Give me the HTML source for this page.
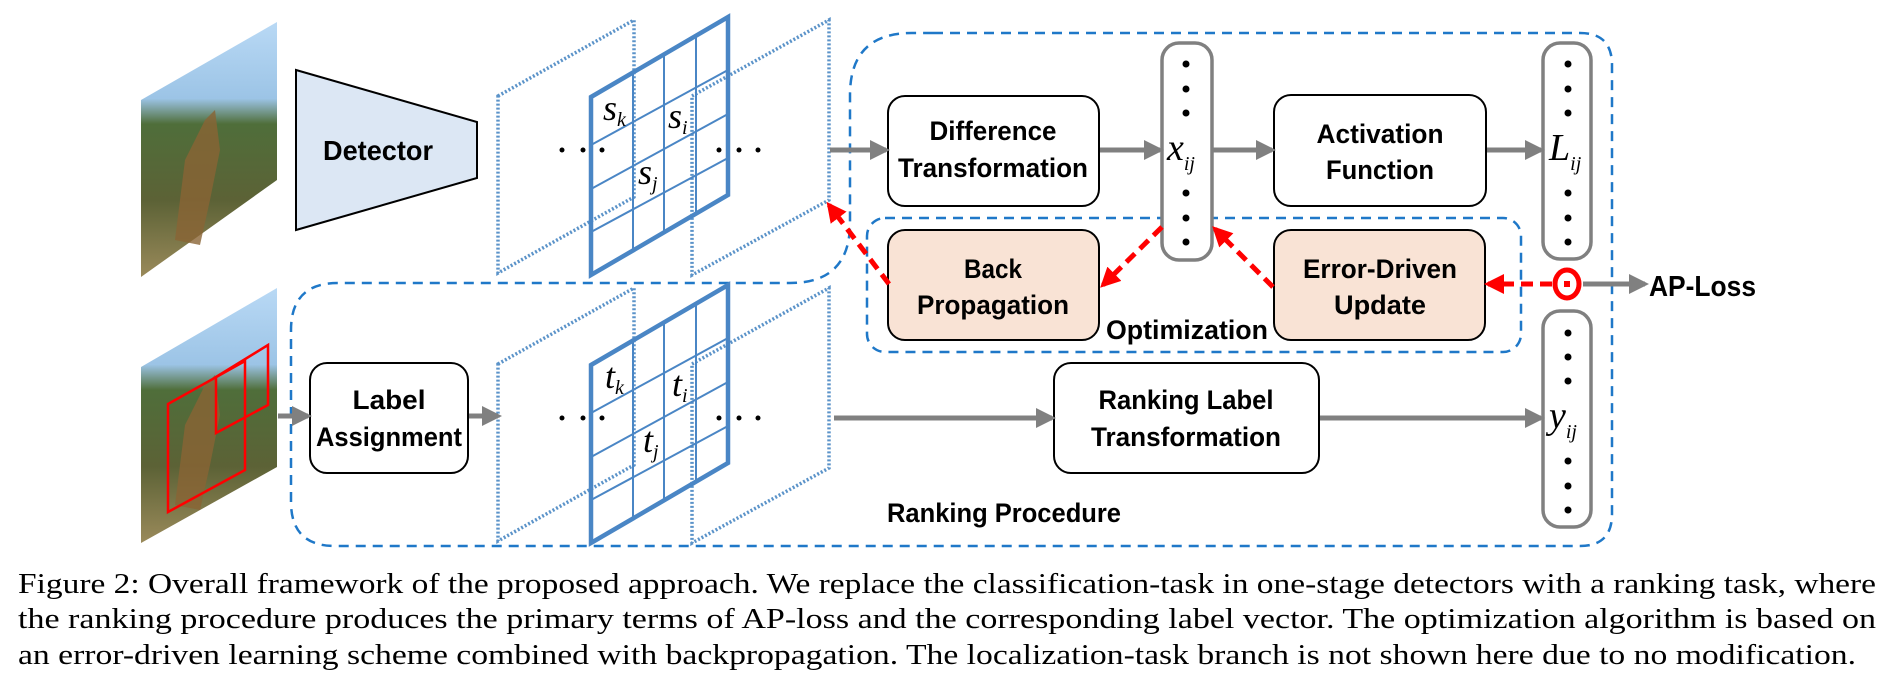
<!DOCTYPE html>
<html><head><meta charset="utf-8"><style>
html,body{margin:0;padding:0;background:#fff;width:1900px;height:680px;overflow:hidden}
svg{display:block}
.b{font-family:"Liberation Sans",sans-serif;font-weight:bold;fill:#000}
.m{font-family:"Liberation Serif",serif;font-style:italic;fill:#000}
.c{font-family:"Liberation Serif",serif;fill:#000}
</style></head><body>
<svg width="1900" height="680" viewBox="0 0 1900 680" xmlns="http://www.w3.org/2000/svg">
<defs>
<linearGradient id="ph" x1="0" y1="0" x2="0" y2="1">
<stop offset="0" stop-color="#b9d9f5"/><stop offset="0.3" stop-color="#9cc4e6"/><stop offset="0.4" stop-color="#4f6e3a"/><stop offset="0.7" stop-color="#5c6236"/><stop offset="1" stop-color="#9a8a5a"/>
</linearGradient>
<marker id="ag" markerWidth="4" markerHeight="4" refX="3.2" refY="2" orient="auto" markerUnits="strokeWidth"><path d="M0,0 L4,2 L0,4 Z" fill="#808080"/></marker>
<marker id="ar" markerWidth="4" markerHeight="4" refX="3.2" refY="2" orient="auto" markerUnits="strokeWidth"><path d="M0,0 L4,2 L0,4 Z" fill="#f00"/></marker>
</defs>

<!-- photos -->
<polygon points="141,100 277,22 277,180 141,277" fill="url(#ph)"/>
<path d="M175,240 L185,160 L205,120 L215,110 L220,150 L210,200 L200,245 Z" fill="#8a6434" opacity="0.8"/>
<polygon points="141,367 277,288 277,467 141,543" fill="url(#ph)"/>
<path d="M175,505 L185,425 L205,385 L215,375 L220,415 L210,465 L200,510 Z" fill="#8a6434" opacity="0.8"/>
<polygon points="168,404 245,361 245,470 168,512" fill="none" stroke="#f00" stroke-width="2.5"/>
<polygon points="216,377 268,345 268,405 216,433" fill="none" stroke="#f00" stroke-width="2.5"/>

<!-- detector -->
<polygon points="296,70 477,122 477,178 296,230" fill="#dce7f4" stroke="#000" stroke-width="2"/>
<text class="b" x="378" y="160" font-size="28" text-anchor="middle" textLength="110" lengthAdjust="spacingAndGlyphs">Detector</text>

<!-- outer dashed region -->
<path d="M933,33 H1580 Q1612,33 1612,65 V514 Q1612,546 1580,546 H335 Q291,546 291,502 V330 Q291,283 338,283 H790 Q850,283 850,223 V95 Q850,33 912,33 Z" fill="none" stroke="#1f78c8" stroke-width="2.5" stroke-dasharray="10,7"/>
<rect x="867" y="218" width="654" height="134" rx="18" fill="none" stroke="#1f78c8" stroke-width="2.5" stroke-dasharray="10,7"/>

<!-- feature maps -->
<g id="fm">
<polygon points="498,96 634,20 634,197 498,273" fill="none" stroke="#5b93c9" stroke-width="3.5" stroke-dasharray="2,2"/>
<polygon points="692,96 829,20 829,200 692,275" fill="none" stroke="#5b93c9" stroke-width="3.5" stroke-dasharray="2,2"/>
<polygon points="591,97 728,17 728,195 591,275" fill="none" stroke="#4a86c5" stroke-width="4.5"/>
<g stroke="#4a86c5" stroke-width="2">
<line x1="633" y1="72" x2="633" y2="250"/><line x1="664" y1="55" x2="664" y2="232"/><line x1="696" y1="36" x2="696" y2="214"/>
<line x1="591" y1="145" x2="728" y2="70"/><line x1="591" y1="189" x2="728" y2="114"/><line x1="591" y1="232" x2="728" y2="158"/>
</g>
</g>
<use href="#fm" transform="translate(0,268)"/>

<g fill="#000">
<circle cx="562" cy="150" r="2.5"/><circle cx="583" cy="150" r="2.5"/><circle cx="602" cy="150" r="2.5"/>
<circle cx="719" cy="150" r="2.5"/><circle cx="739" cy="150" r="2.5"/><circle cx="758" cy="150" r="2.5"/>
<circle cx="562" cy="418" r="2.5"/><circle cx="583" cy="418" r="2.5"/><circle cx="602" cy="418" r="2.5"/>
<circle cx="719" cy="418" r="2.5"/><circle cx="739" cy="418" r="2.5"/><circle cx="758" cy="418" r="2.5"/>
</g>
<text class="m" x="603" y="120" font-size="36">s<tspan font-size="20" dy="6">k</tspan></text>
<text class="m" x="668" y="128" font-size="36">s<tspan font-size="20" dy="6">i</tspan></text>
<text class="m" x="638" y="184" font-size="36">s<tspan font-size="20" dy="6">j</tspan></text>
<text class="m" x="605" y="388" font-size="36">t<tspan font-size="20" dy="6">k</tspan></text>
<text class="m" x="672" y="396" font-size="36">t<tspan font-size="20" dy="6">i</tspan></text>
<text class="m" x="643" y="452" font-size="36">t<tspan font-size="20" dy="6">j</tspan></text>

<!-- boxes -->
<g stroke="#000" stroke-width="2">
<rect x="888" y="96" width="211" height="110" rx="17" fill="#fff"/>
<rect x="1274" y="95" width="212" height="111" rx="17" fill="#fff"/>
<rect x="888" y="230" width="211" height="110" rx="17" fill="#f9e3d5"/>
<rect x="1274" y="230" width="211" height="110" rx="17" fill="#f9e3d5"/>
<rect x="1054" y="363" width="265" height="110" rx="17" fill="#fff"/>
<rect x="310" y="363" width="158" height="110" rx="17" fill="#fff"/>
</g>
<g class="b" font-size="27" text-anchor="middle">
<text x="993" y="140" textLength="127" lengthAdjust="spacingAndGlyphs">Difference</text>
<text x="993" y="177" textLength="190" lengthAdjust="spacingAndGlyphs">Transformation</text>
<text x="1380" y="143" textLength="127" lengthAdjust="spacingAndGlyphs">Activation</text>
<text x="1380" y="179" textLength="108" lengthAdjust="spacingAndGlyphs">Function</text>
<text x="993" y="278" textLength="58" lengthAdjust="spacingAndGlyphs">Back</text>
<text x="993" y="314" textLength="152" lengthAdjust="spacingAndGlyphs">Propagation</text>
<text x="1380" y="278" textLength="154" lengthAdjust="spacingAndGlyphs">Error-Driven</text>
<text x="1380" y="314" textLength="92" lengthAdjust="spacingAndGlyphs">Update</text>
<text x="1186" y="409" textLength="175" lengthAdjust="spacingAndGlyphs">Ranking Label</text>
<text x="1186" y="446" textLength="190" lengthAdjust="spacingAndGlyphs">Transformation</text>
<text x="389" y="409" textLength="73" lengthAdjust="spacingAndGlyphs">Label</text>
<text x="389" y="446" textLength="146" lengthAdjust="spacingAndGlyphs">Assignment</text>
</g>
<text class="b" x="1106" y="339" font-size="27" textLength="162" lengthAdjust="spacingAndGlyphs">Optimization</text>
<text class="b" x="887" y="522" font-size="27" textLength="234" lengthAdjust="spacingAndGlyphs">Ranking Procedure</text>
<text class="b" x="1649" y="296" font-size="29" textLength="107" lengthAdjust="spacingAndGlyphs">AP-Loss</text>

<!-- vectors -->
<g fill="#fff" stroke="#808080" stroke-width="3.5">
<rect x="1162" y="43" width="50" height="217" rx="17"/>
<rect x="1543" y="43" width="48" height="216" rx="17"/>
<rect x="1543" y="311" width="48" height="216" rx="17"/>
</g>
<g fill="#000">
<circle cx="1186" cy="64" r="3.5"/><circle cx="1186" cy="89" r="3.5"/><circle cx="1186" cy="113" r="3.5"/>
<circle cx="1186" cy="193" r="3.5"/><circle cx="1186" cy="218" r="3.5"/><circle cx="1186" cy="242" r="3.5"/>
<circle cx="1568" cy="64" r="3.5"/><circle cx="1568" cy="89" r="3.5"/><circle cx="1568" cy="113" r="3.5"/>
<circle cx="1568" cy="193" r="3.5"/><circle cx="1568" cy="218" r="3.5"/><circle cx="1568" cy="242" r="3.5"/>
<circle cx="1568" cy="333" r="3.5"/><circle cx="1568" cy="357" r="3.5"/><circle cx="1568" cy="381" r="3.5"/>
<circle cx="1568" cy="461" r="3.5"/><circle cx="1568" cy="486" r="3.5"/><circle cx="1568" cy="510" r="3.5"/>
</g>
<text class="m" x="1167" y="160" font-size="38">x<tspan font-size="20" dy="10">ij</tspan></text>
<text class="m" x="1549" y="160" font-size="38">L<tspan font-size="20" dy="10">ij</tspan></text>
<text class="m" x="1549" y="428" font-size="38">y<tspan font-size="20" dy="10">ij</tspan></text>

<!-- gray arrows -->
<g stroke="#808080" stroke-width="5" fill="none" marker-end="url(#ag)">
<line x1="830" y1="150" x2="886" y2="150"/>
<line x1="1100" y1="150" x2="1160" y2="150"/>
<line x1="1213" y1="150" x2="1272" y2="150"/>
<line x1="1487" y1="150" x2="1541" y2="150"/>
<line x1="834" y1="418" x2="1052" y2="418"/>
<line x1="1320" y1="418" x2="1541" y2="418"/>
<line x1="278" y1="416" x2="308" y2="416"/>
<line x1="469" y1="416" x2="498" y2="416"/>
<line x1="1583" y1="284" x2="1645" y2="284"/>
</g>

<!-- red dashed arrows -->
<g stroke="#f00" stroke-width="5" fill="none" stroke-dasharray="12,7" marker-end="url(#ar)">
<line x1="1552" y1="284" x2="1488" y2="284"/>
<line x1="1273" y1="287" x2="1215" y2="229"/>
<line x1="1162" y1="227" x2="1103" y2="285"/>
<line x1="889" y1="284" x2="829" y2="205"/>
</g>
<ellipse cx="1567" cy="284" rx="12" ry="14" fill="#fff" stroke="#f00" stroke-width="5"/>
<rect x="1564" y="281" width="6" height="6" fill="#f00"/>

<!-- caption -->
<g class="c" font-size="29">
<text x="18" y="593" textLength="1858" lengthAdjust="spacingAndGlyphs">Figure 2: Overall framework of the proposed approach. We replace the classification-task in one-stage detectors with a ranking task, where</text>
<text x="18" y="628" textLength="1858" lengthAdjust="spacingAndGlyphs">the ranking procedure produces the primary terms of AP-loss and the corresponding label vector. The optimization algorithm is based on</text>
<text x="18" y="664" textLength="1838" lengthAdjust="spacingAndGlyphs">an error-driven learning scheme combined with backpropagation. The localization-task branch is not shown here due to no modification.</text>
</g>
</svg>
</body></html>
